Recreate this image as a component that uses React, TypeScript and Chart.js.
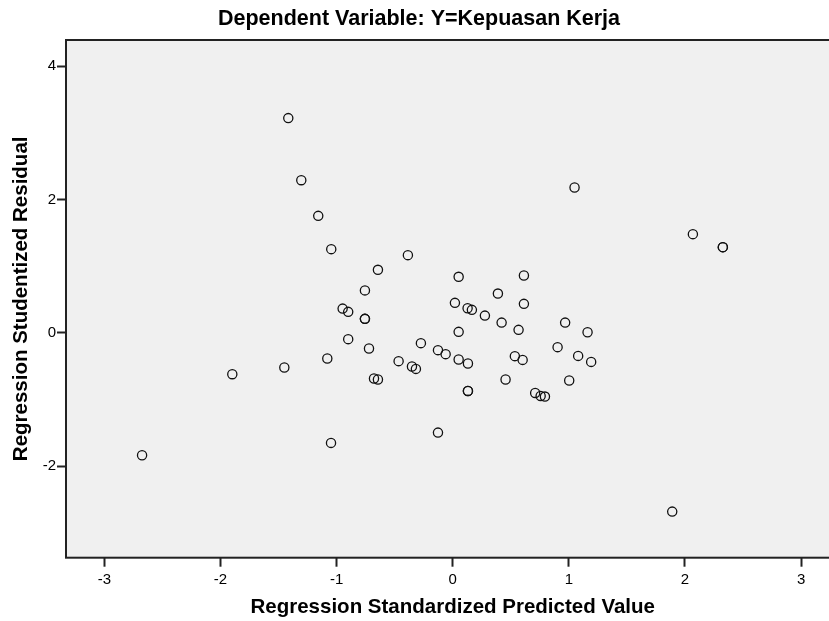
import React, { useEffect, useRef } from "react";
import { Chart, registerables } from "chart.js";

Chart.register(...registerables);

const chartTitle = "Dependent Variable: Y=Kepuasan Kerja";
const xAxisTitle = "Regression Standardized Predicted Value";
const yAxisTitle = "Regression Studentized Residual";

const xTickValues = [-3, -2, -1, 0, 1, 2, 3];
const yTickValues = [-2, 0, 2, 4];

// Regression Standardized Predicted Value
const predicted = [
  -2.675, -1.898, -1.45, -1.416, -1.304, -1.158, -1.08, -1.048, -1.046, -0.948,
  -0.9, -0.9, -0.756, -0.756, -0.756, -0.721, -0.678, -0.644, -0.644, -0.466,
  -0.386, -0.351, -0.317, -0.274, -0.127, -0.127, -0.061, 0.019, 0.051, 0.051,
  0.051, 0.128, 0.131, 0.131, 0.131, 0.165, 0.277, 0.389, 0.421, 0.455,
  0.535, 0.567, 0.602, 0.613, 0.613, 0.71, 0.757, 0.794, 0.903, 0.968,
  1.003, 1.049, 1.08, 1.161, 1.192, 1.89, 2.068, 2.326, 2.326,
];

// Regression Studentized Residual
const residual = [
  -1.834, -0.619, -0.52, 3.219, 2.289, 1.754, -0.385, -1.649, 1.255, 0.364,
  0.315, -0.094, 0.637, 0.21, 0.21, -0.235, -0.685, -0.7, 0.945, -0.424,
  1.165, -0.505, -0.54, -0.154, -0.259, -1.495, -0.319, 0.45, 0.84, 0.015,
  -0.4, 0.37, -0.46, -0.87, -0.87, 0.345, 0.259, 0.589, 0.154, -0.7,
  -0.349, 0.045, -0.405, 0.859, 0.435, -0.9, -0.945, -0.955, -0.214, 0.154,
  -0.715, 2.178, -0.345, 0.01, -0.435, -2.679, 1.48, 1.285, 1.285,
];

const X_MIN = -3.33;
const X_MAX = 3.24;
const Y_MIN = -3.37;
const Y_MAX = 4.39;

const FONT = "Arial, 'Liberation Sans', 'DejaVu Sans', sans-serif";

const framePlugin = {
  id: "frame",
  beforeDraw(chart: any) {
    const { ctx, chartArea } = chart;
    ctx.save();
    ctx.fillStyle = "#F0F0F0";
    ctx.fillRect(chartArea.left, chartArea.top, chartArea.right - chartArea.left + 10, chartArea.bottom - chartArea.top);
    ctx.restore();
  },
  beforeDatasetsDraw(chart: any) {
    const { ctx, chartArea } = chart;
    ctx.save();
    ctx.strokeStyle = "#222222";
    ctx.lineWidth = 2;
    ctx.strokeRect(chartArea.left, chartArea.top, chartArea.right - chartArea.left + 10, chartArea.bottom - chartArea.top);
    ctx.restore();
  },
  afterDraw(chart: any) {
    const { ctx } = chart;
    const xScale = chart.scales.x;
    ctx.save();
    ctx.fillStyle = "#000000";
    ctx.textAlign = "center";
    ctx.textBaseline = "middle";
    ctx.font = `bold 21.5px ${FONT}`;
    ctx.fillText(chartTitle, 419, 19);
    ctx.font = `bold 20.5px ${FONT}`;
    ctx.fillText(xAxisTitle, xScale.getPixelForValue(0), 607);
    ctx.restore();
  },
};

export default function App() {
  const canvasRef = useRef<HTMLCanvasElement | null>(null);

  useEffect(() => {
    if (!canvasRef.current) return;
    const points = predicted.map((x, i) => ({ x, y: residual[i] }));
    const chart = new Chart(canvasRef.current, {
      type: "scatter",
      data: {
        datasets: [
          {
            data: points,
            pointStyle: "circle",
            pointRadius: 4.6,
            pointHoverRadius: 4.6,
            borderWidth: 1.3,
            borderColor: "#111111",
            backgroundColor: "rgba(0,0,0,0)",
          },
        ],
      },
      options: {
        animation: false,
        responsive: false,
        devicePixelRatio: 1,
        layout: { padding: { top: 40, left: 0, right: 0, bottom: 0 }, autoPadding: false },
        plugins: {
          legend: { display: false },
          tooltip: { enabled: false },
          title: { display: false },
        },
        scales: {
          x: {
            type: "linear",
            min: X_MIN,
            max: X_MAX,
            afterBuildTicks(scale: any) {
              scale.ticks = xTickValues.map((v) => ({ value: v }));
            },
            afterFit(scale: any) {
              scale.height = 63.3;
            },
            border: { display: false },
            grid: {
              display: true,
              drawOnChartArea: false,
              drawTicks: true,
              tickLength: 9,
              tickWidth: 2,
              tickColor: "#222222",
            },
            ticks: {
              color: "#000000",
              padding: 4,
              font: { family: FONT, size: 15 },
              callback: (v: any) => String(v),
            },
            title: { display: false },
          },
          y: {
            type: "linear",
            min: Y_MIN,
            max: Y_MAX,
            afterBuildTicks(scale: any) {
              scale.ticks = yTickValues.map((v) => ({ value: v }));
            },
            afterFit(scale: any) {
              scale.width = 66;
            },
            border: { display: false },
            grid: {
              display: true,
              drawOnChartArea: false,
              drawTicks: true,
              tickLength: 9,
              tickWidth: 2,
              tickColor: "#222222",
            },
            ticks: {
              color: "#000000",
              padding: 1,
              font: { family: FONT, size: 15 },
              callback: (v: any) => String(v),
            },
            title: {
              display: true,
              text: yAxisTitle,
              color: "#000000",
              font: { family: FONT, size: 20.5, weight: "bold", lineHeight: 1.2 },
              padding: { top: 9.5, bottom: 0 },
            },
          },
        },
      },
      plugins: [framePlugin],
    });
    return () => chart.destroy();
  }, []);

  return (
    <div style={{ position: "absolute", left: 0, top: 0, width: 829, height: 621, background: "#ffffff" }}>
      <canvas ref={canvasRef} width={829} height={621} style={{ display: "block" }} />
    </div>
  );
}
